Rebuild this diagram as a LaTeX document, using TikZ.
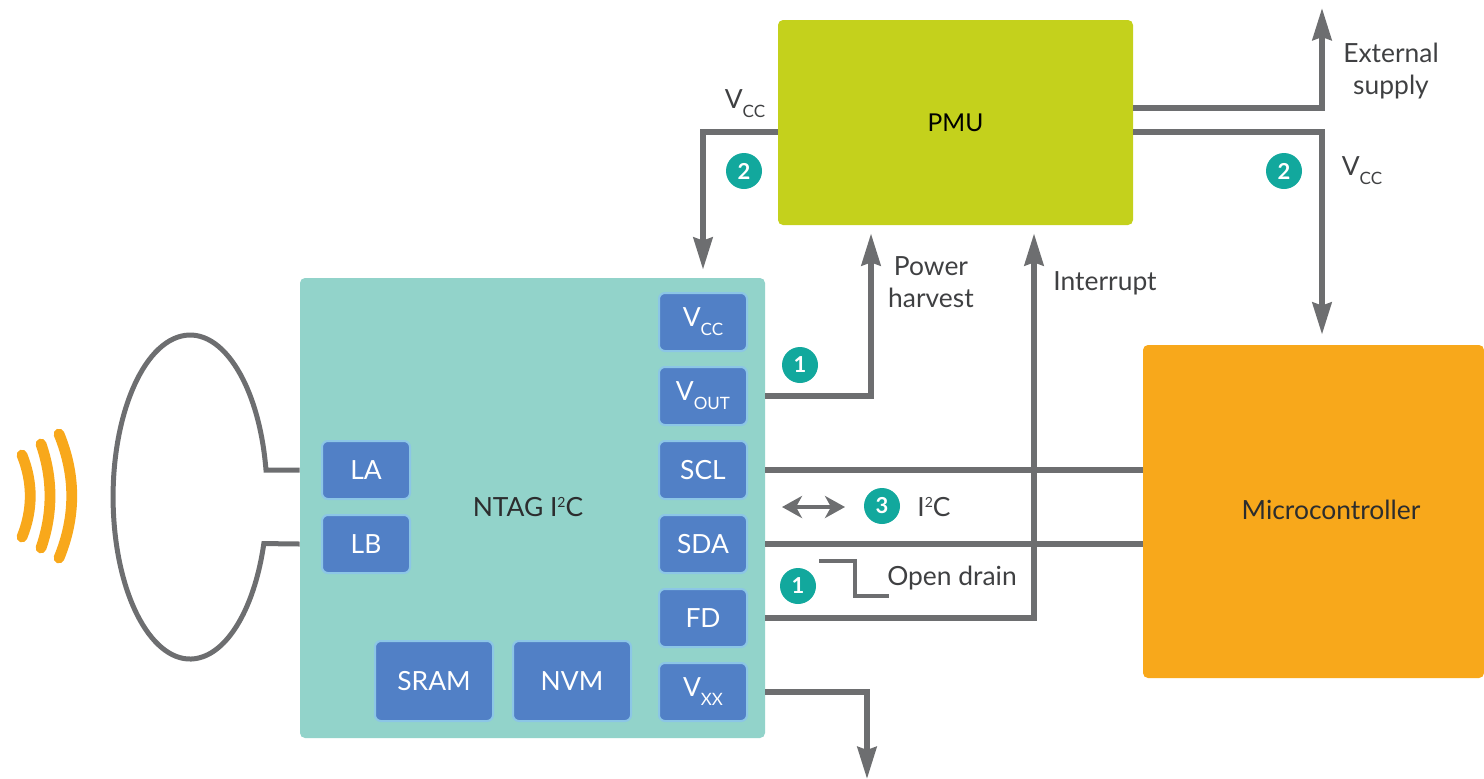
\documentclass[tikz,border=0pt]{standalone}
\usepackage{fontspec}
\setmainfont{Lato}
\usetikzlibrary{positioning,arrows.meta}
\definecolor{tagteal}{HTML}{92D3CA}
\definecolor{pinblue}{HTML}{5180C6}
\definecolor{pinedge}{HTML}{8CC6E6}
\definecolor{pmugreen}{HTML}{C4D11C}
\definecolor{mcuorange}{HTML}{F8A81B}
\definecolor{wiregray}{HTML}{6D6E70}
\definecolor{badgeteal}{HTML}{12A89D}
\definecolor{labelgray}{HTML}{3F4042}
\newcommand{\lowtext}[1]{\raisebox{-4.5pt}{\fontsize{8.5}{9}\selectfont #1}}
\newcommand{\hightext}[1]{\raisebox{4.5pt}{\fontsize{7}{8}\selectfont #1}}
\tikzset{
  pin box/.style={
    fill=pinblue,
    draw=pinedge,
    line width=1pt,
    rounded corners=3pt,
    text=white,
    minimum width={#1pt},
    minimum height=29pt,
    inner sep=0pt,
  },
  pin box/.default=44,
  block/.style={
    fill=#1,
    rounded corners=2.5pt,
    inner sep=0pt,
  },
  wire/.style={
    draw=wiregray,
    line width=2.8pt,
  },
  wire tip/.style={
    wire,
    -{Stealth[length=16pt,width=9.5pt,inset=1.5pt]},
  },
  badge/.style={
    circle,
    fill=badgeteal,
    text=white,
    minimum size=18pt,
    inner sep=0pt,
    font=\bfseries\fontsize{11}{12}\selectfont,
  },
  annotation/.style={
    text=labelgray,
    align=center,
  },
}

\begin{document}
\begin{tikzpicture}[x=0.5pt,y=-0.5pt,node distance=7pt,font=\fontsize{13.2}{16}\selectfont]
        \useasboundingbox (0,0) rectangle (1484,778);

        \node [block=tagteal, minimum width=232.5pt, minimum height=230pt] (ntag) at (532.5,508) {};
        \node [block=pmugreen, minimum width=177.5pt, minimum height=102.5pt, font=\fontsize{12.3}{16}\selectfont] (pmu) at (955.5,122.5) {PMU};
        \node [block=mcuorange, minimum width=170.5pt, minimum height=166.5pt] (mcu) at (1313.5,511.5) {};
        \node [labelgray!70!black] (mcutext) at (1331,510) {Microcontroller};
        \node [labelgray!70!black] (ntagtext) at (528,507) {NTAG I\hightext{2}C};

        \node [pin box] (pvcc) at (703,322) {V\lowtext{CC}};
        \node [pin box, below=of pvcc] (pvout) {V\lowtext{OUT}};
        \node [pin box, below=of pvout] (pscl) {SCL};
        \node [pin box, below=of pscl] (psda) {SDA};
        \node [pin box, below=of psda] (pfd) {FD};
        \node [pin box, below=of pfd] (pvxx) {V\lowtext{XX}};
        \node [pin box] (pla) at (366,470) {LA};
        \node [pin box, below=of pla] (plb) {LB};
        \node [pin box=59, minimum height=40pt] (psram) at (434,681) {SRAM};
        \node [pin box=59, minimum height=40pt, right=9pt of psram] (pnvm) {NVM};

        % free ends of the wires
        \coordinate (pmuleft) at (778,132);
        \coordinate (pmuext) at (1133,108);
        \coordinate (pmuvcc) at (1133,132);
        \coordinate (railx) at (1322,300);
        \coordinate (exttip) at (1322,8);
        \coordinate (harvest) at (871,300);
        \coordinate (irq) at (1034,300);
        \coordinate (vxxtip) at (867,779);
        \coordinate (bothl) at (782,507);
        \coordinate (bothr) at (845,507);
        \coordinate (draina) at (819,561);
        \coordinate (drainb) at (889,596);
        \coordinate (loopa) at (266,470);

        \draw [wire tip, shorten >=4pt] (pmuleft) -| (pvcc.north |- ntag.north);
        \draw [wire tip] (pmuext) -| (exttip);
        \draw [wire tip, shorten >=5pt] (pmuvcc) -| (railx |- mcu.north);
        \draw [wire tip, shorten >=4pt] (pvout.east -| ntag.east) -| (harvest |- pmu.south);
        \draw [wire tip, shorten >=4pt] (pfd.east -| ntag.east) -| (irq |- pmu.south);
        \draw [wire tip] (pvxx.east -| ntag.east) -| (vxxtip);
        \draw [wire] (pscl.east -| ntag.east) -- (pscl.east -| mcu.west);
        \draw [wire] (psda.east -| ntag.east) -- (psda.east -| mcu.west);
        \draw [wire, line width=2.2pt, {Stealth[length=10pt,width=11pt,inset=3pt]}-{Stealth[length=10pt,width=11pt,inset=3pt]}] (bothl) -- (bothr);
        \draw [wire, line width=1.8pt] (draina) -| (855,596) -- (drainb);

        % loop antenna
        \draw [wire, line width=2.5pt] (pla.west -| ntag.west) -- (loopa)
          arc [start angle=9.6, end angle=343.3, x radius=38.5pt, y radius=81pt]
          -- (plb.west -| ntag.west);

        % field waves
        \foreach \x/\cx/\h in {22/33/41, 41/53/52, 59/76/62} {
          \draw [mcuorange, line width=5.4pt, line cap=round]
            (\x,496-\h) .. controls (\cx,496-\h/3) and (\cx,496+\h/3) .. (\x,496+\h);
        }

        \node [badge] (b2a) at (744,171) {2};
        \node [badge] (b2b) at (1284,171) {2};
        \node [badge] (b1a) at (800,365) {1};
        \node [badge] (b1b) at (798,586) {1};
        \node [badge] (b3) at (882,506) {3};

        \node [annotation] (lvcca) at (745,104) {V\lowtext{CC}};
        \node [annotation] (lvccb) at (1362,171) {V\lowtext{CC}};
        \node [annotation] (lext) at (1391,71) {External\\supply};
        \node [annotation] (lpow) at (931,282) {Power\\harvest};
        \node [annotation] (lirq) at (1105,283) {Interrupt};
        \node [annotation] (li2c) at (934,507) {I\hightext{2}C};
        \node [annotation] (ldrain) at (952,578) {Open drain};
      \end{tikzpicture}
\end{document}
